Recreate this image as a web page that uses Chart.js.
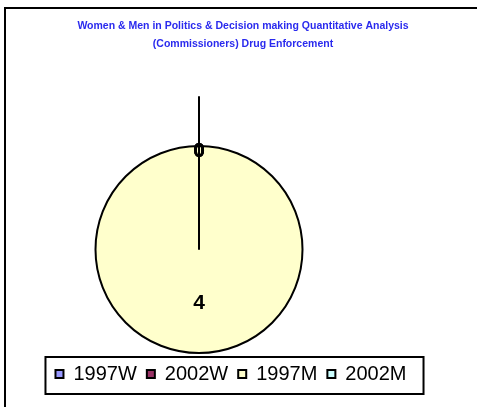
<!DOCTYPE html>
<html>
<head>
<meta charset="utf-8">
<script src="https://cdn.jsdelivr.net/npm/chart.js@4/dist/chart.umd.min.js"></script>
<style>
    html, body { margin: 0; padding: 0; background: #fff; }
    #wrap { position: relative; width: 477px; height: 407px; overflow: hidden; }
    /* only the top and left edges of the sheet frame are visible in the original */
    #frame { position: absolute; left: 4px; top: 7px; width: 600px; height: 600px;
             border-left: 2px solid #000; border-top: 2px solid #000; }
    canvas { position: absolute; left: 0; top: 0; }
</style>
</head>
<body>
<div id="wrap">
    <div id="frame"></div>
    <canvas id="pieChart" width="477" height="407"></canvas>
</div>
<script>
const titleLines = [
    'Women & Men in Politics & Decision making Quantitative Analysis',
    '(Commissioners) Drug Enforcement'
];
const categories = ['1997W', '2002W', '1997M', '2002M'];
const values = [0, 0, 4, 0];
const sliceColors = ['#9999ff', '#993366', '#ffffcc', '#ccffff'];

// extra bits the old spreadsheet chart had: leader line, value labels, legend box
const pieExtras = {
    id: 'pieExtras',
    afterLayout(chart) {
        // pie sits left of the title in the original, legend a little left too
        const area = chart.chartArea;
        area.right -= 88;
        area.width = area.right - area.left;
        chart.legend.left -= 12;
        chart.legend.right -= 12;
    },
    afterDatasetsDraw(chart) {
        const ctx = chart.ctx;
        const arcs = chart.getDatasetMeta(0).data;
        const first = arcs[0];
        ctx.save();
        ctx.strokeStyle = '#000';
        ctx.lineWidth = 2;
        ctx.beginPath();
        ctx.moveTo(first.x, first.y);
        ctx.lineTo(first.x, first.y - first.outerRadius * 1.48);
        ctx.stroke();

        ctx.font = 'bold 21px Arial';
        ctx.fillStyle = '#000';
        ctx.textAlign = 'center';
        ctx.textBaseline = 'middle';
        arcs.forEach((arc, i) => {
            let pos;
            if (values[i] > 0) {
                pos = arc.tooltipPosition();
            } else {
                const a = arc.startAngle;
                pos = {
                    x: arc.x + Math.cos(a) * arc.outerRadius * 0.97,
                    y: arc.y + Math.sin(a) * arc.outerRadius * 0.97
                };
            }
            ctx.fillText(String(values[i]), pos.x, pos.y + 2);
        });
        ctx.restore();
    },
    afterDraw(chart) {
        const ctx = chart.ctx;
        const lg = chart.legend;
        const boxes = lg.legendHitBoxes;
        if (!boxes || !boxes.length) return;
        const last = boxes[boxes.length - 1];
        const left = boxes[0].left - 10;
        const right = last.left + last.width + 17;
        ctx.save();
        ctx.strokeStyle = '#000';
        ctx.lineWidth = 2;
        ctx.strokeRect(left, lg.top + 3, right - left, lg.bottom - lg.top - 3);
        ctx.restore();
    }
};

const chart = document.getElementById('pieChart').getContext('2d');

new Chart(chart, {
    type: 'pie',
    data: {
        labels: categories,
        datasets: [{
            data: values,
            backgroundColor: sliceColors,
            borderColor: '#000',
            borderWidth: 2,
            hoverOffset: 0
        }]
    },
    options: {
        responsive: false,
        animation: false,
        layout: {
            padding: { left: 9, right: 0, top: 0, bottom: 13 }
        },
        plugins: {
            title: {
                display: true,
                text: titleLines,
                color: '#2a2aee',
                font: { family: 'Arial', size: 10.5, weight: 'bold', lineHeight: '18px' },
                padding: { top: 17, bottom: 92 }
            },
            legend: {
                position: 'bottom',
                labels: {
                    color: '#000',
                    font: { family: 'Arial', size: 20 },
                    boxWidth: 8,
                    boxHeight: 8,
                    padding: 10,
                    generateLabels(c) {
                        const items = Chart.overrides.doughnut.plugins.legend.labels.generateLabels(c);
                        items.forEach(it => { it.lineWidth = 2; });
                        return items;
                    }
                }
            },
            tooltip: { enabled: false }
        }
    },
    plugins: [pieExtras]
});
</script>
</body>
</html>
